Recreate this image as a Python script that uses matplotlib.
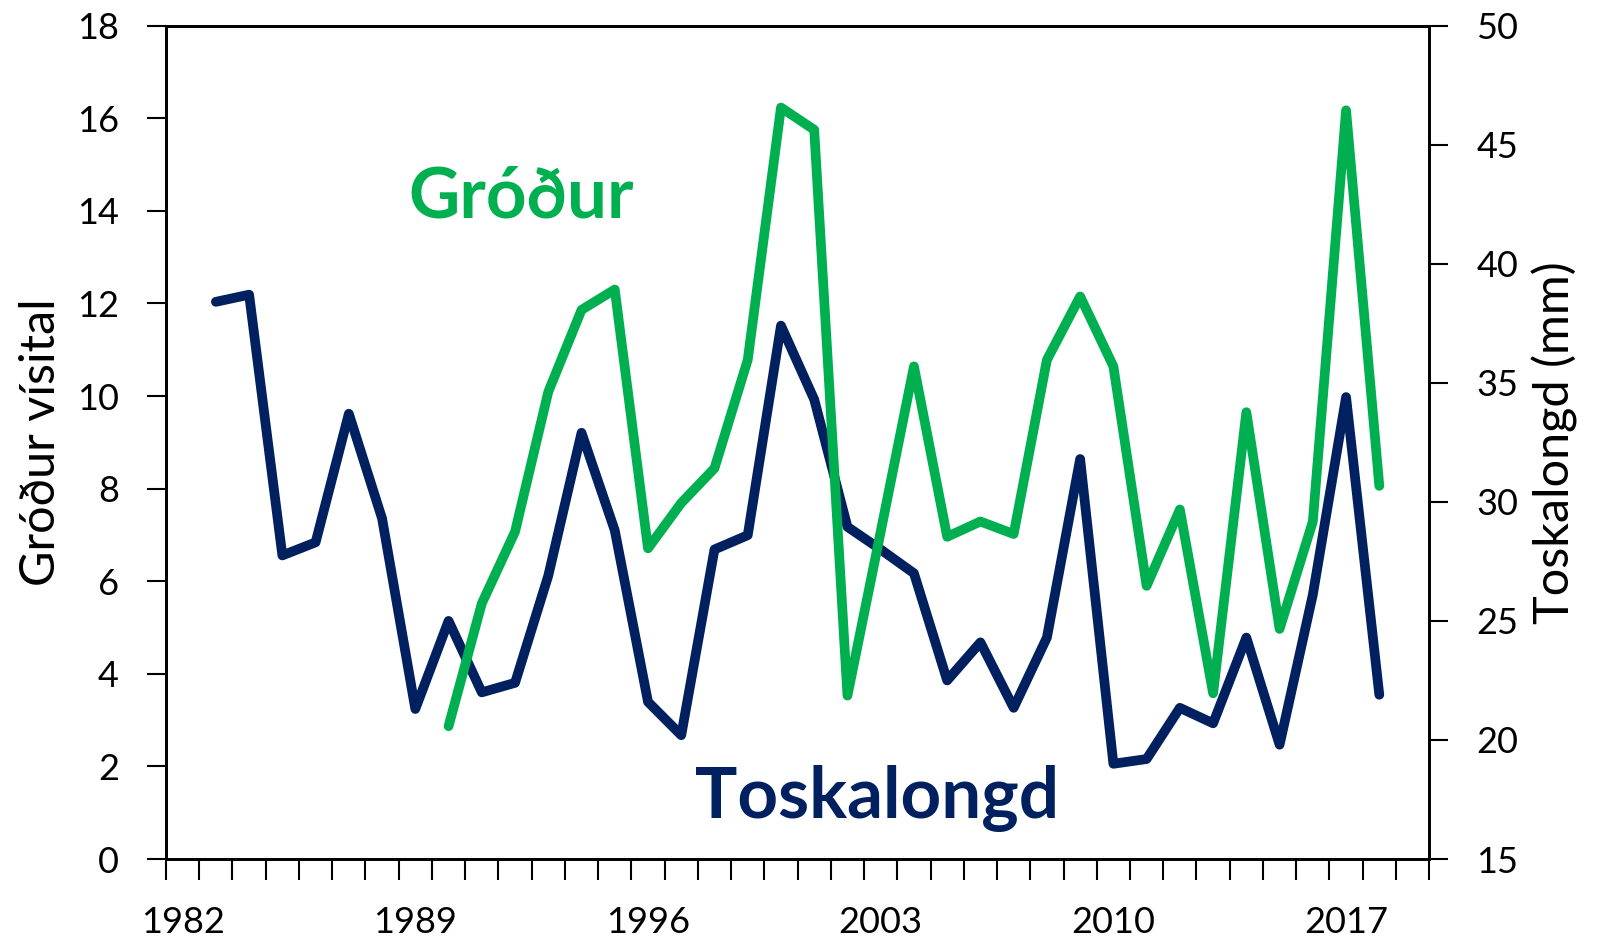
import matplotlib
matplotlib.use("Agg")
import matplotlib.pyplot as plt
from matplotlib.ticker import MultipleLocator, FixedLocator

years_tosk = list(range(1983, 2019))
toskalongd = [38.4, 38.7, 27.75, 28.3, 33.7, 29.3, 21.3, 25.0, 22.0, 22.4,
              26.9, 32.9, 28.8, 21.6, 20.2, 28.0, 28.6, 37.4, 34.3, 28.95,
              28.0, 27.0, 22.5, 24.1, 21.35, 24.3, 31.8, 19.0, 19.2, 21.35,
              20.7, 24.3, 19.8, 26.1, 34.4, 21.9]
years_grod = list(range(1990, 2019))
grodur = [2.87, 5.52, 7.07, 10.09, 11.86, 12.3, 6.71, 7.69, 8.44, 10.78,
          16.23, 15.75, 3.53, 7.07, 10.64, 6.96, 7.29, 7.02, 10.78, 12.15,
          10.64, 5.9, 7.55, 3.58, 9.65, 4.97, 7.29, 16.17, 8.06]
year_labels = [1982, 1989, 1996, 2003, 2010, 2017]

GREEN = "#00B050"
NAVY = "#002060"

plt.rcParams['font.family'] = ['Lato', 'DejaVu Sans']

fig = plt.figure(figsize=(16.04, 9.41), dpi=100)
ax = fig.add_axes([0.1035, 0.0871, 0.891 - 0.1035, 0.9728 - 0.0871])
ax2 = ax.twinx()

ax.plot(years_grod, grodur, color=GREEN, lw=7, solid_joinstyle='round',
        solid_capstyle='round', zorder=3)
ax2.plot(years_tosk, toskalongd, color=NAVY, lw=7, solid_joinstyle='round',
         solid_capstyle='round', zorder=3)
ax.set_zorder(ax2.get_zorder() + 1)
ax.patch.set_visible(False)

ax.set_xlim(1981.5, 2019.5)
ax.set_ylim(0, 18)
ax2.set_ylim(15, 50)
ax.yaxis.set_major_locator(MultipleLocator(2))
ax2.yaxis.set_major_locator(MultipleLocator(5))
ax.set_xticks(year_labels)
ax.xaxis.set_minor_locator(FixedLocator([y + 0.5 for y in range(1981, 2020)]))

for a in (ax, ax2):
    for s in a.spines.values():
        s.set_linewidth(2)
        s.set_color('black')

ax.tick_params(axis='x', which='major', length=0, pad=34, labelsize=26)
ax.tick_params(axis='x', which='minor', length=15, width=1.5, direction='out')
ax.tick_params(axis='y', length=14, width=1.5, direction='out', pad=20, labelsize=26)
ax2.tick_params(axis='y', length=14, width=1.5, direction='out', pad=20, labelsize=26)

ax.set_ylabel("Gróður vísital", fontsize=35, labelpad=10)
ax2.set_ylabel("Toskalongd (mm)", fontsize=35, labelpad=10)

ax.text(1988.8, 14.3, "Gróður", color=GREEN, fontsize=51, fontweight='bold',
        ha='left', va='center')
ax.text(1997.4, 1.3, "Toskalongd", color=NAVY, fontsize=51, fontweight='bold',
        ha='left', va='center')

fig.savefig("out.png", dpi=100)
